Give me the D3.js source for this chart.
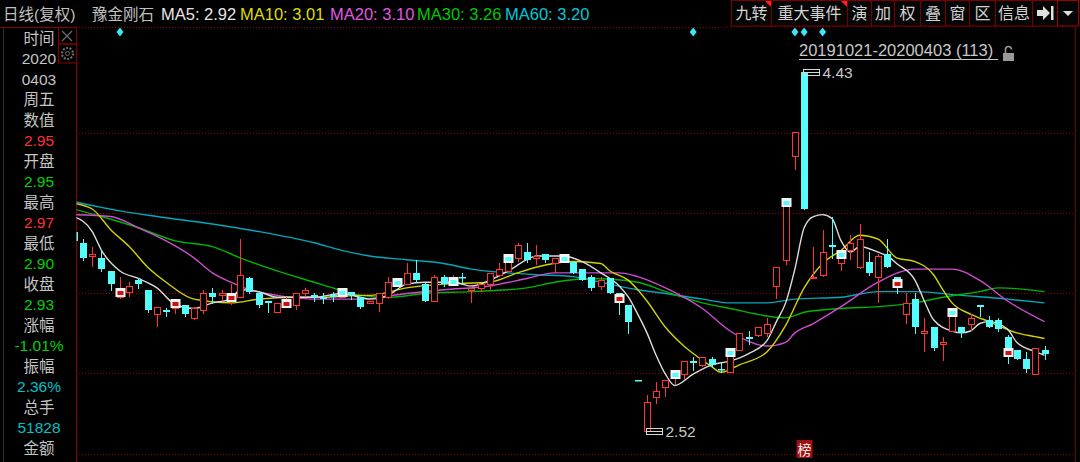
<!DOCTYPE html>
<html><head><meta charset="utf-8">
<script src="https://cdn.jsdelivr.net/npm/d3@7"></script>
<style>
html,body{margin:0;padding:0;background:#000;overflow:hidden;}
svg{display:block;}
text{font-family:"Liberation Sans","Noto Sans CJK SC",sans-serif;}
</style></head><body>
<svg id="c" width="1080" height="462"></svg>
<script>
// ---------- DATA ----------
const opens  = [3.58,3.52,3.45,3.44,3.37,3.23,3.26,3.32,3.27,3.14,3.16,3.17,3.19,3.12,3.16,3.25,3.24,3.21,3.23,3.33,3.25,3.21,3.15,3.18,3.19,3.25,3.24,3.23,3.24,3.23,3.26,3.23,3.20,3.20,3.23,3.29,3.30,3.36,3.30,3.21,3.34,3.30,3.34,3.27,3.28,3.30,3.35,3.37,3.44,3.47,3.44,3.46,3.41,3.42,3.42,3.38,3.34,3.29,3.33,3.25,3.19,2.79,2.52,2.70,2.75,2.80,2.82,2.89,2.87,2.90,2.85,2.83,2.95,3.02,3.03,3.04,3.29,3.43,3.98,4.43,3.33,3.35,3.51,3.41,3.48,3.39,3.42,3.34,3.46,3.34,3.14,3.22,3.04,3.07,2.98,3.05,3.07,3.09,3.19,3.11,3.11,3.02,2.95,2.90,2.82,2.95];
const highs  = [3.59,3.54,3.50,3.48,3.37,3.34,3.31,3.33,3.27,3.18,3.17,3.22,3.19,3.18,3.27,3.28,3.27,3.30,3.54,3.34,3.25,3.21,3.20,3.23,3.25,3.28,3.25,3.25,3.26,3.28,3.26,3.23,3.21,3.25,3.34,3.33,3.41,3.43,3.31,3.35,3.35,3.35,3.36,3.29,3.30,3.36,3.41,3.46,3.52,3.52,3.51,3.46,3.44,3.46,3.42,3.38,3.35,3.34,3.33,3.25,3.19,2.79,2.71,2.78,2.79,2.84,2.89,2.91,2.91,2.91,2.88,2.96,3.04,3.05,3.07,3.12,3.39,3.76,4.11,4.43,3.50,3.59,3.66,3.48,3.56,3.62,3.47,3.46,3.54,3.34,3.25,3.25,3.12,3.07,3.02,3.17,3.07,3.14,3.19,3.13,3.12,3.03,2.95,2.94,2.96,2.97];
const lows   = [3.52,3.43,3.39,3.37,3.27,3.22,3.23,3.28,3.15,3.07,3.13,3.14,3.13,3.11,3.14,3.20,3.21,3.19,3.23,3.25,3.18,3.15,3.15,3.17,3.16,3.23,3.21,3.20,3.21,3.23,3.22,3.17,3.20,3.15,3.22,3.29,3.30,3.31,3.21,3.21,3.29,3.29,3.30,3.20,3.26,3.27,3.34,3.37,3.42,3.42,3.40,3.42,3.36,3.42,3.36,3.32,3.27,3.27,3.25,3.14,3.04,2.79,2.52,2.66,2.70,2.76,2.79,2.84,2.86,2.86,2.83,2.83,2.95,2.98,3.02,3.02,3.22,3.40,3.91,3.70,3.33,3.34,3.44,3.37,3.43,3.38,3.35,3.20,3.39,3.25,3.09,3.04,2.94,2.95,2.89,3.05,3.02,3.05,3.13,3.07,3.05,2.88,2.90,2.83,2.82,2.90];
const closes = [3.53,3.44,3.46,3.38,3.30,3.28,3.29,3.30,3.16,3.18,3.15,3.22,3.14,3.17,3.25,3.23,3.25,3.25,3.35,3.26,3.19,3.20,3.20,3.22,3.25,3.27,3.23,3.22,3.23,3.28,3.24,3.18,3.21,3.25,3.31,3.33,3.36,3.32,3.21,3.34,3.30,3.34,3.33,3.28,3.30,3.36,3.38,3.46,3.51,3.43,3.45,3.43,3.44,3.46,3.36,3.32,3.28,3.32,3.25,3.20,3.10,2.79,2.67,2.73,2.79,2.84,2.89,2.88,2.91,2.87,2.84,2.96,3.04,3.01,3.07,3.09,3.39,3.76,4.11,3.70,3.34,3.47,3.50,3.48,3.52,3.54,3.36,3.45,3.39,3.28,3.20,3.07,3.05,2.96,2.99,3.17,3.04,3.12,3.18,3.07,3.06,2.91,2.90,2.85,2.96,2.93];

// signal boxes drawn on some candles (candle index, inner colour key)
const markerIdx   = [5,11,17,23,29,35,41,47,53,59,65,71,77,83,89,95,101];
const markerInner = ["r","r","r","r","c","c","c","c","c","r","c","c","c","c","r","c","r"];
// event diamonds above the chart (candle index)
const eventIdx = [5,67,78,79,81];
const rankIdx = 79; // "榜" tag under this candle

// moving averages: [candle index, value]
const ma5Pts  = [[0,3.66],[2,3.58],[3,3.48],[5,3.37],[7,3.33],[9,3.28],[11,3.19],[13,3.17],[15,3.20],[17,3.22],[18,3.27],[20,3.26],[22,3.23],[26,3.23],[29,3.25],[31,3.23],[32,3.22],[34,3.24],[36,3.30],[38,3.31],[41,3.31],[43,3.29],[45,3.32],[47,3.37],[49,3.43],[50,3.45],[53,3.45],[55,3.42],[57,3.36],[59,3.29],[60,3.23],[61,3.14],[62,3.04],[63,2.92],[64,2.82],[65,2.76],[67,2.82],[69,2.87],[71,2.89],[73,2.93],[75,3.00],[76,3.10],[77,3.20],[78,3.38],[79,3.60],[80,3.66],[81,3.67],[82,3.65],[83,3.53],[84,3.47],[85,3.50],[87,3.47],[88,3.45],[89,3.41],[91,3.32],[92,3.21],[93,3.11],[95,3.05],[96,3.04],[97,3.05],[98,3.09],[99,3.10],[101,3.06],[102,2.99],[104,2.94],[105,2.92]];
const ma10Pts = [[0,3.73],[2,3.70],[4,3.59],[6,3.50],[8,3.39],[10,3.31],[13,3.22],[17,3.20],[20,3.22],[24,3.23],[27,3.23],[31,3.24],[32,3.24],[36,3.28],[40,3.30],[45,3.31],[48,3.36],[50,3.39],[54,3.42],[57,3.41],[58,3.37],[60,3.32],[61,3.27],[62,3.21],[64,3.07],[66,2.97],[67,2.93],[69,2.86],[70,2.83],[72,2.87],[75,2.94],[77,3.08],[79,3.28],[81,3.41],[83,3.48],[85,3.56],[87,3.54],[89,3.44],[91,3.42],[93,3.35],[94,3.27],[95,3.20],[97,3.14],[99,3.10],[102,3.04],[104,3.02],[105,3.01]];
const ma20Pts = [[0,3.67],[4,3.66],[7,3.60],[10,3.53],[13,3.44],[15,3.36],[17,3.31],[19,3.27],[22,3.24],[26,3.22],[31,3.22],[36,3.25],[40,3.27],[45,3.29],[49,3.33],[52,3.36],[56,3.36],[59,3.36],[61,3.34],[64,3.28],[68,3.17],[71,3.05],[75,2.97],[77,2.99],[78,3.04],[80,3.09],[83,3.18],[87,3.31],[91,3.38],[95,3.38],[98,3.32],[101,3.21],[105,3.10]];
const ma30Pts = [[0,3.70],[3,3.66],[7,3.60],[11,3.53],[15,3.50],[18,3.44],[22,3.37],[26,3.31],[28,3.28],[31,3.24],[34,3.23],[38,3.25],[43,3.26],[49,3.28],[52,3.31],[56,3.33],[61,3.31],[64,3.26],[68,3.20],[71,3.17],[75,3.13],[77,3.12],[79,3.15],[83,3.17],[87,3.18],[91,3.20],[94,3.23],[98,3.26],[100,3.28],[105,3.26]];
const ma60Pts = [[0,3.74],[5,3.69],[9,3.66],[15,3.62],[20,3.58],[26,3.52],[29,3.48],[32,3.45],[36,3.43],[40,3.41],[43,3.38],[47,3.36],[50,3.35],[54,3.34],[57,3.31],[61,3.27],[64,3.25],[68,3.22],[71,3.20],[75,3.20],[78,3.22],[83,3.23],[87,3.26],[91,3.26],[96,3.24],[101,3.22],[105,3.20]];

const maLabels = ["MA5: 2.92","MA10: 3.01","MA20: 3.10","MA30: 3.26","MA60: 3.20"];
const titleTexts = ["日线(复权)","豫金刚石"];
const infoLabels = ["时间","2020","0403","周五","数值","2.95","开盘","2.95","最高","2.97","最低","2.90","收盘","2.93","涨幅","-1.01%","振幅","2.36%","总手","51828","金额"];
const infoKinds  = ["l","l","l","l","l","up","l","dn","l","up","l","dn","l","dn","l","dn","l","cy","l","cy","l"];
const toolbarLabels = ["九转","重大事件","演","加","权","叠","窗","区","信息"];
const rangeLabel = "20191021-20200403 (113)";

// ---------- STYLE / LAYOUT ----------
const RED="#ff3434", CYAN="#54fcfc";
const maColors=["#dcdcdc","#d2d200","#d04cd0","#00b400","#00a8bc"];
const headColors=["#e6e6e6","#dcdc00","#e058e0","#00c800","#00c8d8"];
const infoColor={l:"#c4c4c4",up:"#ff3030",dn:"#00d200",cy:"#00c0c8"};
const GRID="#9a0000";

const svg=d3.select("#c");
const x=d3.scaleLinear().domain([1,105]).range([83,1044.5]);
const y=d3.scaleLinear().domain([2.52,4.43]).range([430.5,72]);
const cx=i=>Math.round(x(i))+0.5;
const cy=v=>Math.round(y(v));

const L=76, R=1075, T=27.5;

svg.append("defs").append("clipPath").attr("id","plot")
  .append("rect").attr("x",L+0.5).attr("y",T).attr("width",R-L-0.5).attr("height",462-T);

// frame & grid
svg.append("line").attr("x1",0).attr("x2",L).attr("y1",T).attr("y2",T).attr("stroke","#8a0000");
svg.append("line").attr("x1",L).attr("x2",727).attr("y1",T).attr("y2",T).attr("stroke",GRID).attr("stroke-dasharray","1 2");
svg.append("line").attr("x1",727).attr("x2",1078).attr("y1",T-1).attr("y2",T-1).attr("stroke",GRID).attr("stroke-dasharray","1 2");
[133,213,293,373,454].forEach(g=>{
  svg.append("line").attr("x1",L).attr("x2",R).attr("y1",g+0.5).attr("y2",g+0.5)
    .attr("stroke",GRID).attr("stroke-dasharray","1 2");
});
svg.append("line").attr("x1",L+0.5).attr("x2",L+0.5).attr("y1",T).attr("y2",462).attr("stroke","#8a0000");
svg.append("line").attr("x1",R+0.5).attr("x2",R+0.5).attr("y1",T).attr("y2",462).attr("stroke","#6a0000");
svg.append("line").attr("x1",3.5).attr("x2",3.5).attr("y1",T).attr("y2",462).attr("stroke","#303030");

// header
const hdr=svg.append("g");
hdr.append("text").attr("x",3).attr("y",20).attr("font-size",15.5).attr("fill","#c0c0c0").text(titleTexts[0]);
hdr.append("text").attr("x",92).attr("y",20).attr("font-size",15.5).attr("fill","#c0c0c0").text(titleTexts[1]);
const maX=[161,240,330,417,505];
maLabels.forEach((t,i)=>hdr.append("text").attr("x",maX[i]).attr("y",20).attr("font-size",16.5).attr("fill",headColors[i]).text(t));

// toolbar
const tbW=[40,76,24,23,26,25,24,26,37,25,21];
let tx=731;
const tb=svg.append("g");
tbW.forEach((w,i)=>{
  tb.append("rect").attr("x",tx+0.5).attr("y",0.5).attr("width",w).attr("height",25.5)
    .attr("fill","#050505").attr("stroke",i===10?"#a00000":"#7a0000");
  if(i<toolbarLabels.length){
    tb.append("text").attr("x",tx+w/2+0.5).attr("y",19).attr("text-anchor","middle")
      .attr("font-size",16).attr("fill","#d2d2d2").text(toolbarLabels[i]);
  }
  if(i===0||i===1){
    tb.append("path").attr("d",`M${tx+w-6},1 L${tx+w},1 L${tx+w},7 Z`).attr("fill","#ff2020");
  }
  if(i===9){
    tb.append("path").attr("d",`M${tx+5},10 L${tx+11},10 L${tx+11},6 L${tx+18},13 L${tx+11},20 L${tx+11},16 L${tx+5},16 Z`).attr("fill","#e0e0e0");
    tb.append("rect").attr("x",tx+19).attr("y",6).attr("width",2.5).attr("height",14).attr("fill","#e0e0e0");
  }
  if(i===10){
    tb.append("path").attr("d",`M${tx+6},11 L${tx+16},11 L${tx+11},16 Z`).attr("fill","#e0e0e0");
  }
  tx+=w;
});

// left info panel
const info=svg.append("g").attr("font-size",15.5).attr("text-anchor","middle");
infoLabels.forEach((t,i)=>{
  info.append("text").attr("x",39).attr("y",38+i*20.5+5.5).attr("fill",infoColor[infoKinds[i]]).text(t);
});
// close & settings icons
svg.append("rect").attr("x",58.5).attr("y",T).attr("width",18).attr("height",16.5).attr("fill","none").attr("stroke","#8a0000");
svg.append("path").attr("d","M62,31 L72,41 M72,31 L62,41").attr("stroke","#707070").attr("stroke-width",1.2);
svg.append("rect").attr("x",58.5).attr("y",44).attr("width",18).attr("height",19).attr("fill","none").attr("stroke","#8a0000");
svg.append("circle").attr("cx",67.5).attr("cy",53.5).attr("r",5.5).attr("fill","none").attr("stroke","#6a6a6a").attr("stroke-width",2.2).attr("stroke-dasharray","2 1.4");
svg.append("circle").attr("cx",67.5).attr("cy",53.5).attr("r",2).attr("fill","none").attr("stroke","#6a6a6a");

// plot area
const plot=svg.append("g").attr("clip-path","url(#plot)");

// moving averages
const line=d3.line().x(d=>x(d[0])).y(d=>y(d[1])).curve(d3.curveMonotoneX);
[ma60Pts,ma30Pts,ma20Pts,ma10Pts,ma5Pts].forEach((pts,j)=>{
  const ci=4-j;
  plot.append("path").attr("d",line(pts)).attr("fill","none").attr("stroke",maColors[ci]).attr("stroke-width",1.4);
});

// candles
const candles=d3.range(opens.length).map(i=>({i,o:opens[i],h:highs[i],l:lows[i],c:closes[i]}));
const cg=plot.append("g");
candles.forEach(d=>{
  const up=d.c>d.o;
  const col=up?RED:CYAN;
  const X=cx(d.i);
  const yt=cy(Math.max(d.o,d.c)), yb=cy(Math.min(d.o,d.c));
  const yh=cy(d.h), yl=cy(d.l);
  if(up){
    if(yh<yt) cg.append("line").attr("x1",X).attr("x2",X).attr("y1",yh).attr("y2",yt).attr("stroke",col);
    if(yl>yb) cg.append("line").attr("x1",X).attr("x2",X).attr("y1",yb).attr("y2",yl).attr("stroke",col);
    cg.append("rect").attr("x",X-3).attr("y",yt+0.5).attr("width",6).attr("height",Math.max(1,yb-yt))
      .attr("fill","#000").attr("stroke",col);
  }else{
    cg.append("line").attr("x1",X).attr("x2",X).attr("y1",yh).attr("y2",yl+1).attr("stroke",col);
    cg.append("rect").attr("x",X-3.5).attr("y",yt).attr("width",7).attr("height",Math.max(1.5,yb-yt))
      .attr("fill",col);
  }
});

// signal boxes
markerIdx.forEach((k,j)=>{
  const up=closes[k]>opens[k];
  const X=cx(k);
  const yc=cy(closes[k]);
  const y0=up?yc:yc-9;
  plot.append("rect").attr("x",X-5).attr("y",y0).attr("width",10).attr("height",9).attr("fill","#f4f4f4");
  plot.append("rect").attr("x",X-3).attr("y",y0+3).attr("width",6).attr("height",4)
    .attr("fill",markerInner[j]==="r"?"#d01010":CYAN);
});

// event diamonds
eventIdx.forEach(k=>{
  const X=x(k);
  svg.append("path").attr("d",`M${X},27.5 L${X+3.5},32 L${X},36.5 L${X-3.5},32 Z`).attr("fill","#40e4f4");
});

// extreme labels
function extreme(k,v){
  const X=cx(k), Y=cy(v)+0.5;
  plot.append("rect").attr("x",X-1).attr("y",Y-3).attr("width",16).attr("height",6).attr("fill","none").attr("stroke","#d8d8d8");
  plot.append("line").attr("x1",X-1).attr("x2",X+15).attr("y1",Y).attr("y2",Y).attr("stroke","#d8d8d8");
  plot.append("text").attr("x",X+18).attr("y",Y+5.5).attr("font-size",15.5).attr("fill","#c8c8c8").text(v.toFixed(2));
}
const hiK=d3.maxIndex(highs), loK=d3.minIndex(lows);
extreme(hiK,highs[hiK]);
extreme(loK,lows[loK]);

// interval label
svg.append("text").attr("x",799).attr("y",56).attr("font-size",16.5).attr("fill","#c8c8c8").text(rangeLabel);
svg.append("line").attr("x1",799).attr("x2",998).attr("y1",59.5).attr("y2",59.5).attr("stroke","#c8c8c8");
svg.append("rect").attr("x",1003).attr("y",53).attr("width",11).attr("height",8).attr("fill","#9a9a9a");
svg.append("path").attr("d","M1005.5,53 L1005.5,49.5 A3,3 0 0 1 1011.5,49.5").attr("fill","none").attr("stroke","#9a9a9a").attr("stroke-width",1.6);

// rank tag
const rx=cx(rankIdx);
svg.append("rect").attr("x",rx-8).attr("y",440).attr("width",16).attr("height",18).attr("fill","#9e0f0f");
svg.append("text").attr("x",rx).attr("y",455).attr("text-anchor","middle").attr("font-size",14).attr("fill","#f0f0f0").text("榜");
</script>
</body></html>
